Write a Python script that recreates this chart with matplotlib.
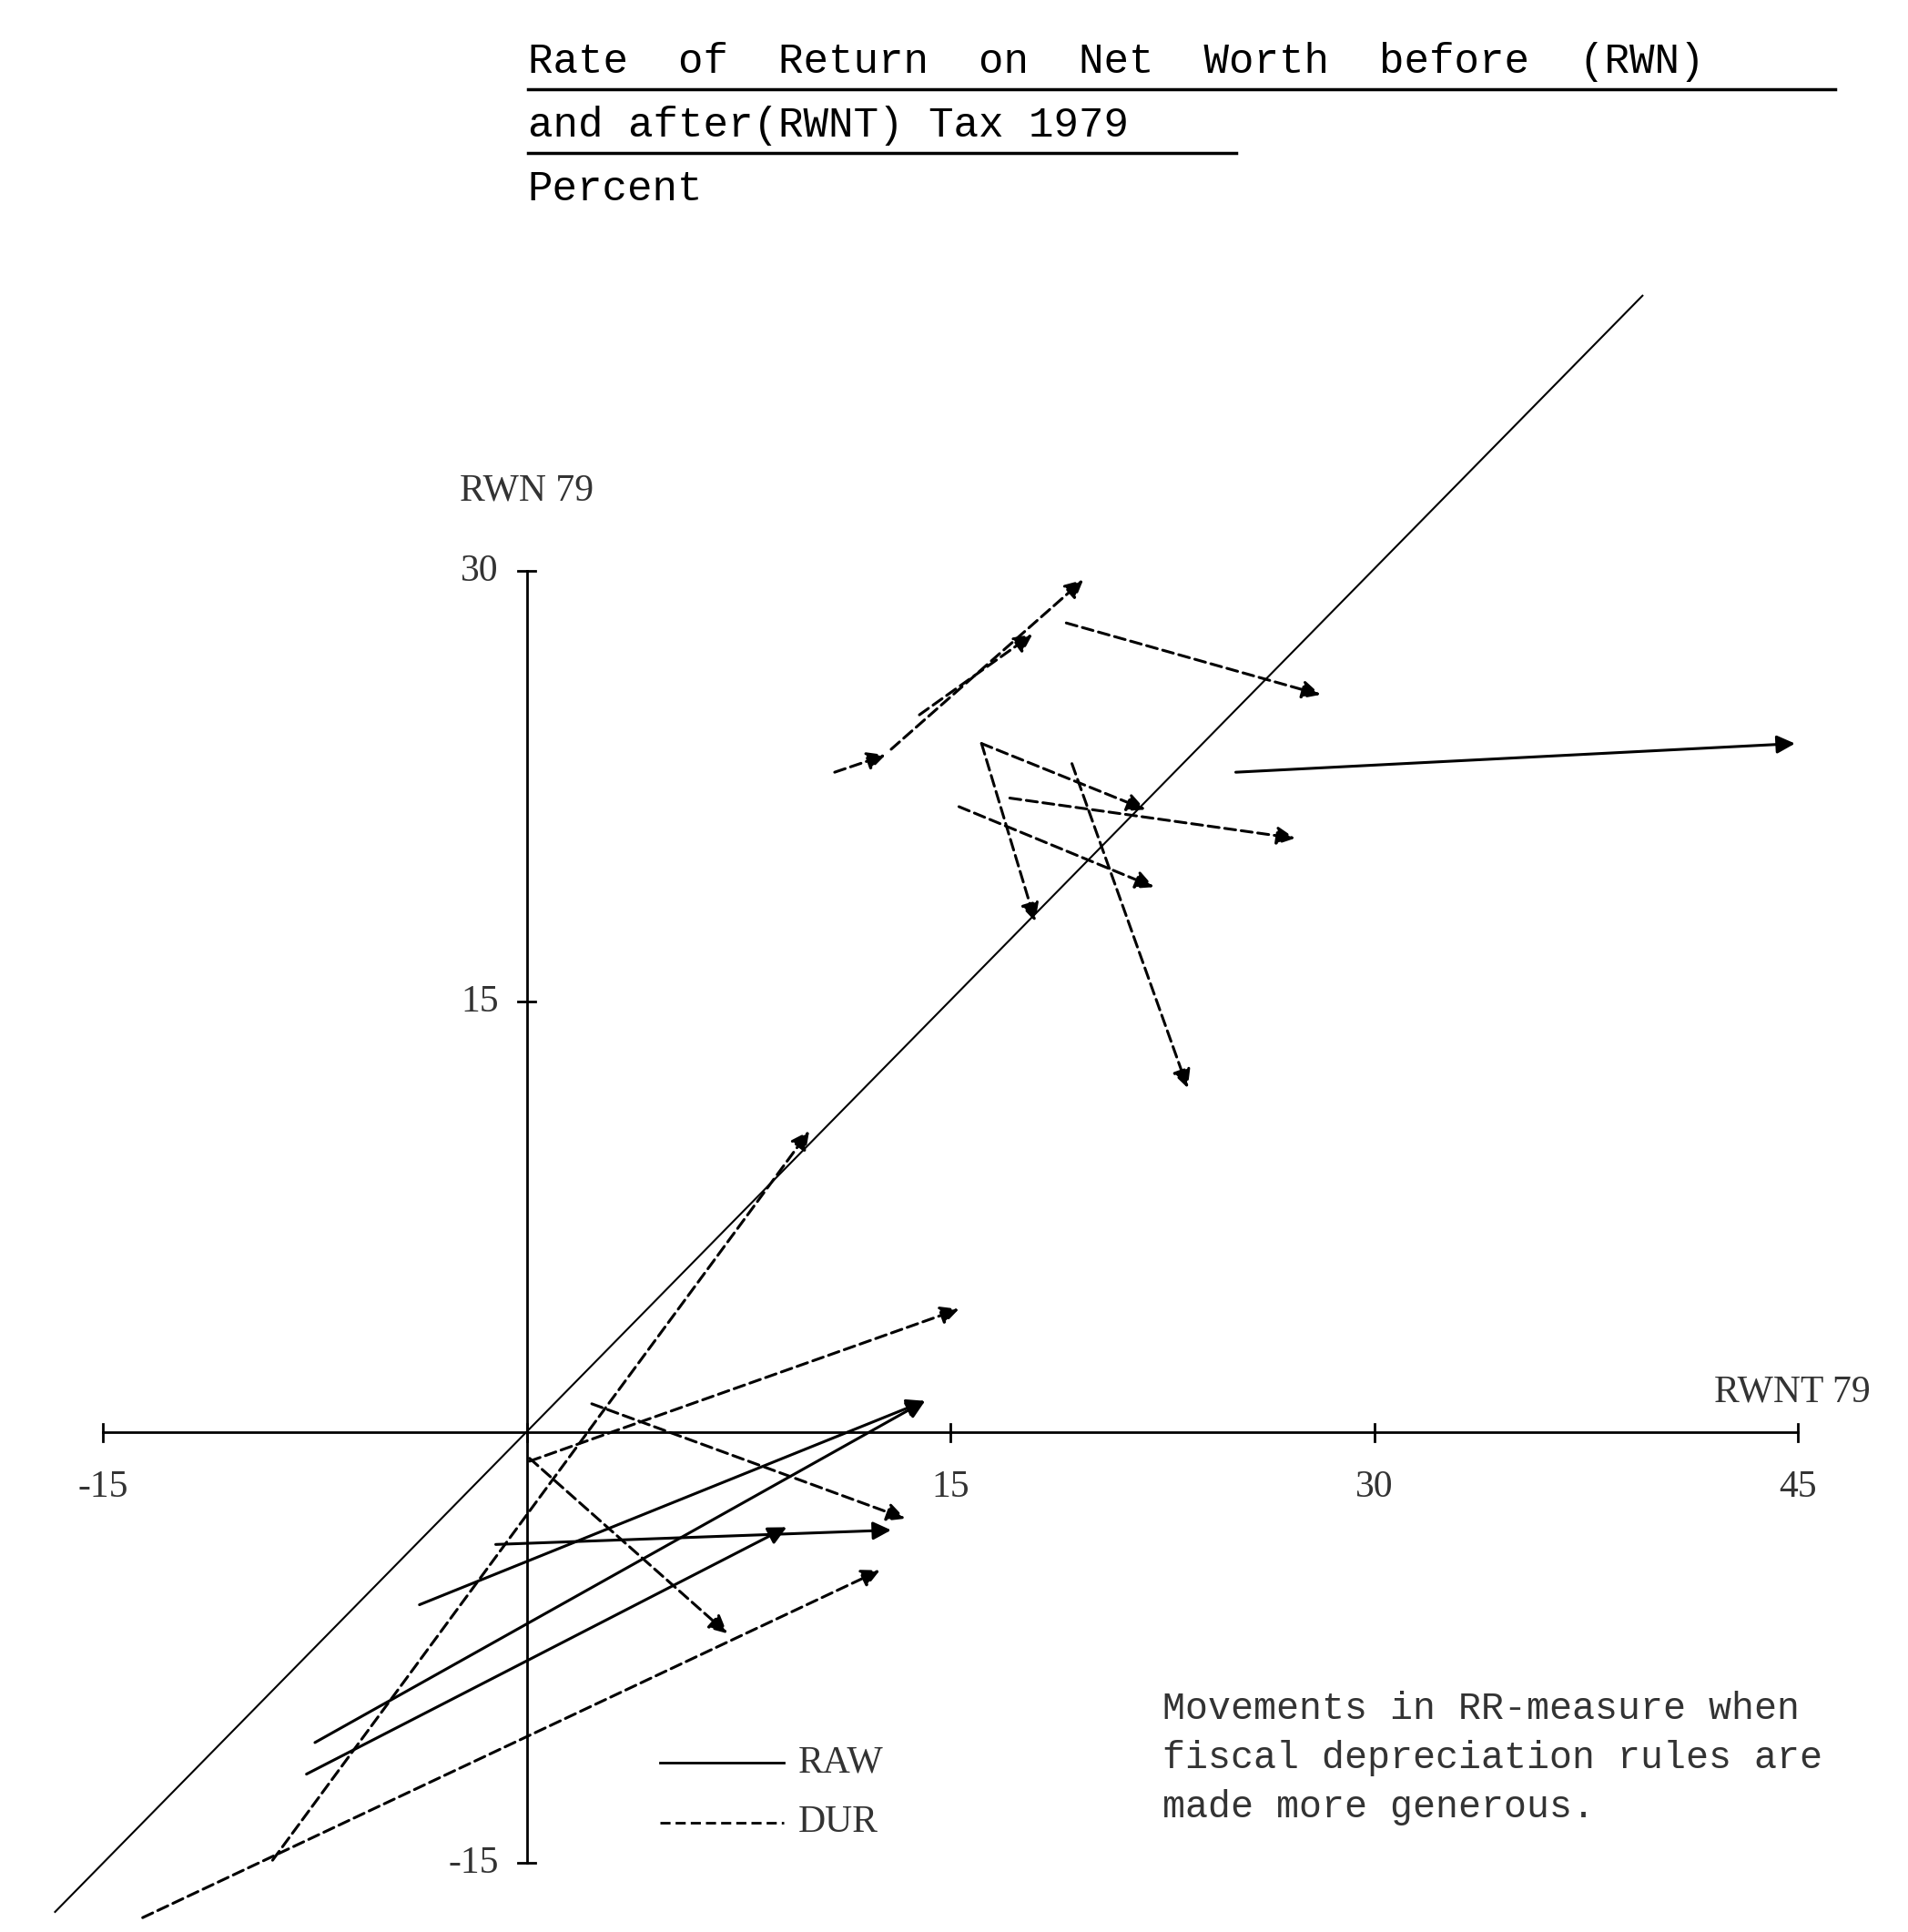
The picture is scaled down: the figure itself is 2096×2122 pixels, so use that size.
import matplotlib.pyplot as plt

# RAW (solid) movements: start (x, y) -> end (x, y)
raw_start = [(25.1, 23.0), (-3.8, -6.0), (-1.1, -3.9), (-7.5, -10.8), (-7.8, -11.9)]
raw_end = [(44.9, 24.0), (14.1, 1.1), (12.9, -3.4), (14.1, 1.1), (9.2, -3.3)]

# DUR (dashed) movements
dur_start = [(10.9, 23.0), (12.9, 23.8), (13.9, 25.0), (19.1, 28.2), (16.1, 24.0),
             (16.1, 24.0), (17.1, 22.1), (15.3, 21.8), (19.3, 23.3), (0.1, -0.9),
             (0.1, -1.0), (2.3, 1.0), (-9.0, -14.9), (-13.6, -16.9)]
dur_end = [(12.7, 23.6), (19.7, 29.7), (17.9, 27.8), (28.1, 25.7), (18.0, 17.8),
           (21.9, 21.7), (27.2, 20.7), (22.2, 19.0), (23.4, 12.0), (7.1, -7.0),
           (15.3, 4.3), (13.4, -3.0), (10.0, 10.5), (12.5, -4.8)]

x_ticks = [-15, 15, 30, 45]
y_ticks = [-15, 15, 30]

fig = plt.figure(figsize=(20.96, 21.22), dpi=100)
ax = fig.add_axes([0, 0, 1, 1])
ax.set_xlim(-18.65, 48.9)
ax.set_ylim(-17.4, 49.9)
ax.axis('off')

k = 'black'
serif = 'Liberation Serif'
mono = 'Liberation Mono'

# diagonal 45 degree line
ax.plot([-16.7, 39.5], [-16.7, 39.6], color=k, lw=1.5)

# axes
ax.plot([-15, 45], [0, 0], color=k, lw=2)
ax.plot([0, 0], [-15, 30], color=k, lw=2)
for t in x_ticks + [0]:
    ax.plot([t, t], [-0.3, 0.3], color=k, lw=2)
for t in y_ticks:
    ax.plot([-0.3, 0.3], [t, t], color=k, lw=2)
for t in x_ticks:
    ax.text(t, -1.3, str(t), ha='center', va='top', fontsize=30, family=serif, color='#333')
for t in y_ticks:
    ax.text(-1.0, t, str(t), ha='right', va='center', fontsize=30, family=serif, color='#333')
ax.text(0, 32.2, 'RWN 79', ha='center', va='bottom', fontsize=30, family=serif, color='#333')
ax.text(44.8, 0.8, 'RWNT 79', ha='center', va='bottom', fontsize=30, family=serif, color='#333')


def arrow(p0, p1, ls):
    ax.annotate('', xy=p1, xytext=p0,
                arrowprops=dict(arrowstyle='-|>', color=k, lw=2.2, ls=ls,
                                mutation_scale=30, shrinkA=0, shrinkB=0))


for p0, p1 in zip(raw_start, raw_end):
    arrow(p0, p1, '-')
for p0, p1 in zip(dur_start, dur_end):
    arrow(p0, p1, (0, (4, 2)))

# legend
ax.plot([4.7, 9.1], [-11.5, -11.5], color=k, lw=2)
ax.plot([4.7, 9.1], [-13.6, -13.6], color=k, lw=2, ls=(0, (4, 2)))
ax.text(9.6, -11.5, 'RAW', va='center', fontsize=30, family=serif, color='#333')
ax.text(9.6, -13.6, 'DUR', va='center', fontsize=30, family=serif, color='#333')

ax.text(22.5, -9.0, 'Movements in RR-measure when\nfiscal depreciation rules are\nmade more generous.',
        va='top', fontsize=30, family=mono, color='#333', linespacing=1.45)

# title
fig.text(0.2765, 0.968, 'Rate  of  Return  on  Net  Worth  before  (RWN)',
         fontsize=33, family=mono, va='center')
fig.text(0.2765, 0.935, 'and after(RWNT) Tax 1979', fontsize=33, family=mono, va='center')
fig.text(0.2765, 0.902, 'Percent', fontsize=33, family=mono, va='center')
fig.add_artist(plt.Line2D([0.2765, 0.962], [0.954, 0.954], color=k, lw=2.5))
fig.add_artist(plt.Line2D([0.2765, 0.648], [0.921, 0.921], color=k, lw=2.5))

fig.savefig('out.png', dpi=100)
